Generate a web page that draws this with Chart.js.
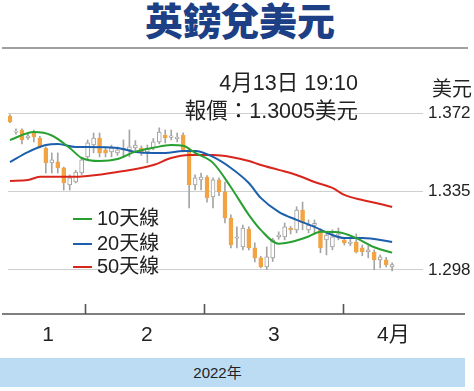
<!DOCTYPE html>
<html>
<head>
<meta charset="utf-8">
<script src="https://cdn.jsdelivr.net/npm/chart.js@4.4.1/dist/chart.umd.min.js"></script>
<style>
  html,body{margin:0;padding:0;background:#fff;}
  #wrap{position:relative;width:474px;height:391px;overflow:hidden;background:#fff;
        font-family:"Liberation Sans","Noto Sans CJK TC",sans-serif;color:#222;}
  #title{position:absolute;left:0;top:-1px;width:480px;text-align:center;font-size:38px;line-height:40px;
         font-weight:900;color:#1c3f86;font-family:"Noto Sans CJK TC","Noto Sans CJK SC",sans-serif;}
  #rule{position:absolute;left:2px;top:47px;width:466px;height:2px;background:#a0a0a0;}
  #band{position:absolute;left:0;top:358px;width:465px;height:29px;background:#bcdcf4;
        text-align:center;font-size:15px;line-height:29px;}
  #band span{position:relative;left:-15px;}
  canvas{position:absolute;left:0;top:0;}
  .note{position:absolute;white-space:nowrap;font-size:21.5px;line-height:24px;text-align:right;}
  .leg{position:absolute;left:73px;font-size:20px;line-height:22px;white-space:nowrap;}
  .leg i{display:inline-block;width:19px;height:2px;vertical-align:middle;margin-right:5px;position:relative;top:-1px;}
</style>
</head>
<body>
<div id="wrap">
  <div id="title">英鎊兌美元</div>
  <div id="rule"></div>
  <div id="band"><span>2022年</span></div>
  <canvas id="c" width="474" height="391"></canvas>
  <div class="note" style="right:2px;top:77px;font-size:20px;">美元</div>
  <div class="note" style="right:116px;top:71px;">4月13日 19:10</div>
  <div class="note" style="right:116px;top:99px;">報價：1.3005美元</div>
  <div class="leg" style="top:207px;"><i style="background:#27a030"></i>10天線</div>
  <div class="leg" style="top:232px;"><i style="background:#1b5fad"></i>20天線</div>
  <div class="leg" style="top:255px;"><i style="background:#d9261c"></i>50天線</div>
</div>
<script>
// ---- data ----
const opens  = [1.3706,1.3630,1.3640,1.3602,1.3625,1.3602,1.3555,1.3485,1.3490,1.3461,1.3381,1.3395,1.3437,
                1.3513,1.3569,1.3602,1.3546,1.3537,1.3532,1.3546,1.3546,1.3555,1.3555,1.3537,1.3555,1.3584,1.3616,1.3605,1.3598,1.3616,1.3546,1.3381,1.3405,
                1.3418,1.3324,1.3405,1.3348,1.3225,1.3130,1.3089,1.3173,1.3084,1.3037,1.2995,1.3037,1.3136,1.3136,1.3178,1.3169,1.3263,1.3169,1.3190,1.3169,1.3122,1.3089,1.3145,
                1.3122,1.3105,1.3112,1.3084,1.3065,1.3065,1.3028,1.3028,1.2995];
const highs  = [1.3712,1.3645,1.3645,1.3625,1.3640,1.3610,1.3560,1.3532,1.3532,1.3465,1.3428,1.3450,1.3510,
                1.3593,1.3626,1.3626,1.3560,1.3569,1.3560,1.3593,1.3640,1.3590,1.3565,1.3569,1.3600,1.3650,1.3640,1.3640,1.3626,1.3626,1.3555,1.3428,1.3437,
                1.3425,1.3414,1.3414,1.3395,1.3240,1.3183,1.3192,1.3183,1.3108,1.3045,1.3089,1.3130,1.3160,1.3202,1.3185,1.3278,1.3300,1.3216,1.3216,1.3175,1.3155,1.3169,1.3178,
                1.3130,1.3130,1.3150,1.3098,1.3094,1.3075,1.3051,1.3040,1.3014];
const lows   = [1.3675,1.3620,1.3574,1.3595,1.3584,1.3555,1.3437,1.3437,1.3437,1.3357,1.3357,1.3390,1.3430,
                1.3499,1.3532,1.3513,1.3513,1.3513,1.3520,1.3513,1.3513,1.3540,1.3520,1.3485,1.3546,1.3575,1.3579,1.3593,1.3584,1.3537,1.3273,1.3357,1.3357,
                1.3300,1.3273,1.3330,1.3202,1.3084,1.3084,1.3075,1.3075,1.3018,1.2990,1.2981,1.3020,1.3125,1.3122,1.3150,1.3155,1.3169,1.3155,1.3155,1.3061,1.3051,1.3075,1.3122,
                1.3098,1.3095,1.3060,1.3047,1.3037,1.2981,1.2990,1.2995,1.2976];
const closes = [1.3678,1.3635,1.3593,1.3612,1.3607,1.3560,1.3485,1.3499,1.3461,1.3390,1.3414,1.3442,1.3499,
                1.3579,1.3602,1.3532,1.3532,1.3555,1.3546,1.3555,1.3560,1.3569,1.3532,1.3555,1.3584,1.3630,1.3602,1.3612,1.3607,1.3546,1.3381,1.3414,1.3418,
                1.3320,1.3405,1.3348,1.3225,1.3098,1.3136,1.3178,1.3084,1.3037,1.2995,1.3042,1.3122,1.3145,1.3183,1.3169,1.3263,1.3202,1.3192,1.3200,1.3084,1.3145,1.3136,1.3150,
                1.3108,1.3112,1.3065,1.3065,1.3075,1.3028,1.3042,1.3004,1.3005];

const ma10Days = [0,4,7,10,12,15,18,21,24,27,29,31,34,37,40,42,45,47,50,52,55,58,61,64];
const ma10     = [1.3593,1.3630,1.3614,1.3555,1.3508,1.3494,1.3503,1.3538,1.3556,1.3569,1.3566,1.3532,1.3485,1.3370,1.3240,1.3169,1.3104,1.3112,1.3138,1.3160,1.3158,1.3130,1.3087,1.3062];
const ma20Days = [0,3,6,8,11,13,18,21,24,26,29,31,34,37,40,42,45,48,51,54,56,59,64];
const ma20     = [1.3489,1.3536,1.3569,1.3574,1.3560,1.3560,1.3555,1.3536,1.3532,1.3532,1.3541,1.3541,1.3513,1.3461,1.3390,1.3320,1.3254,1.3216,1.3183,1.3145,1.3131,1.3131,1.3112];
const ma50Days = [0,3,5,10,13,18,24,27,30,34,37,40,42,45,48,51,54,56,59,62,64];
const ma50     = [1.3400,1.3404,1.3419,1.3419,1.3423,1.3442,1.3475,1.3508,1.3522,1.3522,1.3513,1.3494,1.3475,1.3452,1.3428,1.3395,1.3367,1.3334,1.3310,1.3291,1.3277];

const yTicks = [1.298, 1.335, 1.372];
const monthLabels = ['1', '2', '3', '4月'];
const monthLabelPos = [6.4, 22.9, 44.2, 64.2];
const monthBoundaries = [12.5, 32.5, 55.8];

// ---- build ----
const ORANGE = '#f2a443';
const idx = opens.map((_, i) => i);
const up = idx.map(i => closes[i] >= opens[i]);
const wickData = idx.map(i => ({x: i, y: [lows[i], highs[i]]}));
const bodyData = idx.map(i => {
  let a = opens[i], b = closes[i];
  if (Math.abs(a - b) < 0.00025) { const m = (a + b) / 2; a = m - 0.000125; b = m + 0.000125; }
  return {x: i, y: [a, b]};
});
const pts = (xs, ys) => xs.map((x, k) => ({x, y: ys[k]}));

const axisDecor = {
  id: 'axisDecor',
  afterDraw(chart) {
    const {ctx, chartArea, scales} = chart;
    const yb = chartArea.bottom;
    ctx.save();
    ctx.strokeStyle = '#555';
    ctx.lineWidth = 1.6;
    ctx.beginPath();
    ctx.moveTo(2, yb); ctx.lineTo(465, yb);
    monthBoundaries.forEach(v => {
      const px = Math.round(scales.x.getPixelForValue(v)) + 0.5;
      ctx.moveTo(px, yb); ctx.lineTo(px, yb - 10);
    });
    ctx.stroke();
    ctx.restore();
  }
};

const lineDs = (label, data, color) => ({
  type: 'line', label, data, borderColor: color, borderWidth: 2, pointRadius: 0,
  tension: 0.4, cubicInterpolationMode: 'monotone', fill: false, order: 0
});

new Chart(document.getElementById('c'), {
  data: {
    datasets: [
      lineDs('10天線', pts(ma10Days, ma10), '#27a030'),
      lineDs('20天線', pts(ma20Days, ma20), '#1b5fad'),
      lineDs('50天線', pts(ma50Days, ma50), '#d9261c'),
      { type: 'bar', label: 'body', data: bodyData, grouped: false, order: 1,
        barThickness: 4, borderSkipped: false, borderWidth: 1,
        backgroundColor: up.map(u => u ? '#ffffff' : ORANGE),
        borderColor: up.map(u => u ? '#a0a0a0' : ORANGE) },
      { type: 'bar', label: 'wick', data: wickData, grouped: false, order: 2,
        barThickness: 1, borderWidth: 0, backgroundColor: '#a5a5a5' }
    ]
  },
  options: {
    responsive: false,
    animation: false,
    layout: { padding: { left: 8, right: 0, top: 100, bottom: 0 } },
    plugins: { legend: { display: false }, tooltip: { enabled: false } },
    scales: {
      x: {
        type: 'linear', min: -0.335, max: 69.17, offset: false,
        grid: { display: false, drawTicks: false },
        border: { display: false },
        afterBuildTicks: s => { s.ticks = monthLabelPos.map(v => ({value: v})); },
        afterFit: s => { s.height = 77; },
        ticks: {
          autoSkip: false, maxRotation: 0, padding: 9, color: '#222',
          font: { size: 21, family: '"Liberation Sans","Noto Sans CJK TC",sans-serif' },
          callback: (v, i) => monthLabels[i]
        }
      },
      y: {
        position: 'right', min: 1.27726, max: 1.37813,
        grid: { color: '#cfcfcf', lineWidth: 1, drawTicks: false },
        border: { display: false },
        afterBuildTicks: s => { s.ticks = yTicks.map(v => ({value: v})); },
        afterFit: s => { s.width = 51; },
        ticks: {
          padding: 5, color: '#222',
          font: { size: 17, family: '"Liberation Sans",sans-serif' },
          callback: v => Number(v).toFixed(3)
        }
      }
    }
  },
  plugins: [axisDecor]
});
</script>
</body>
</html>
